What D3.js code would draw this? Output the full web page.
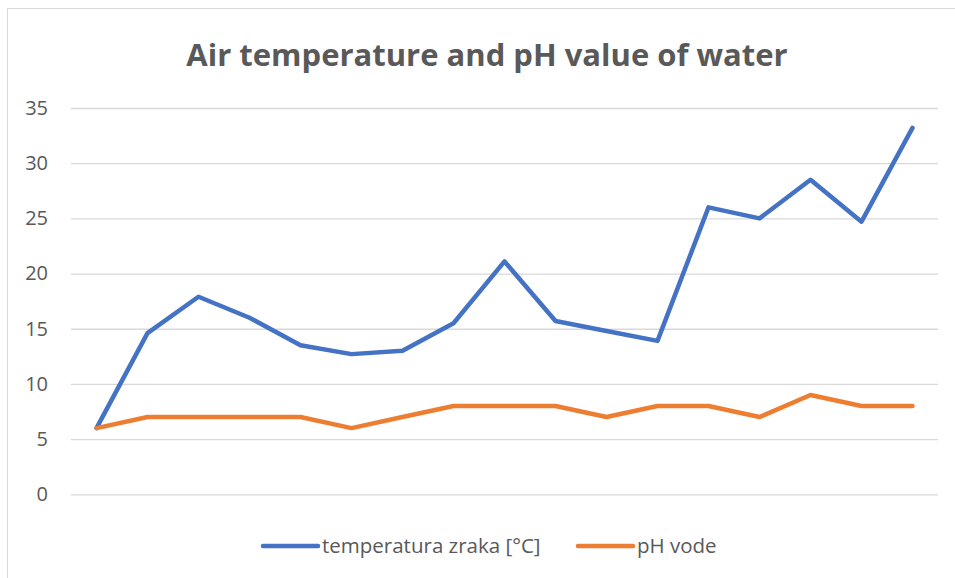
<!DOCTYPE html>
<html>
	<head>
		<meta charset="UTF-8">
		<title>Air temperature and pH value of water</title>
		<style>
			body { margin: 0; background: #fff; }
			text { font-family: "Open Sans", Lato, sans-serif; fill: #595959; }
		</style>
	</head>
	<body>
		<script src="https://d3js.org/d3.v7.min.js"></script>
		<svg width="955" height="578"></svg>
		<script>
			// measurements, one per point (no x labels on the chart)
			var categories = ["1","2","3","4","5","6","7","8","9","10","11","12","13","14","15","16","17"];
			var temperature = [6.0, 14.6, 17.9, 16.0, 13.5, 12.7, 13.0, 15.5, 21.1, 15.7, 14.8, 13.9, 26.0, 25.0, 28.5, 24.7, 33.2];
			var ph = [6, 7, 7, 7, 7, 6, 7, 8, 8, 8, 7, 8, 8, 7, 9, 8, 8];
			var yTicks = [0, 5, 10, 15, 20, 25, 30, 35];
			var seriesNames = ["temperatura zraka [°C]", "pH vode"];
			var colors = ["#4472C4", "#ED7D31"];

			var svg = d3.select("svg");

			// chart area border (cropped on right/bottom)
			svg.append("rect")
				.attr("x", 7.5).attr("y", 8.5)
				.attr("width", 960).attr("height", 580)
				.attr("fill", "none")
				.attr("stroke", "#d9d9d9")
				.attr("stroke-width", 1);

			var plotLeft = 71, plotRight = 938, plotTop = 108, plotBottom = 494.3;

			var x = d3.scaleBand().domain(categories).range([plotLeft, plotRight]);
			var y = d3.scaleLinear().domain([0, 35]).range([plotBottom, plotTop]);

			svg.append("text")
				.attr("x", 487).attr("y", 66)
				.attr("text-anchor", "middle")
				.style("font-size", "31px")
				.style("font-weight", "bold")
				.text("Air temperature and pH value of water");

			// gridlines + labels
			var yAxis = svg.append("g")
				.attr("transform", "translate(" + plotLeft + ",0)")
				.call(d3.axisLeft(y).tickValues(yTicks).tickSize(-(plotRight - plotLeft)).tickPadding(23));
			yAxis.select(".domain").remove();
			yAxis.selectAll("line").attr("stroke", "#d9d9d9").attr("stroke-width", 1.3);
			yAxis.selectAll("text")
				.style("font-size", "20px")
				.style("font-family", "'Open Sans', sans-serif")
				.attr("fill", "#595959");

			var line = d3.line()
				.x(function(d, i) { return x(categories[i]) + x.bandwidth() / 2; })
				.y(function(d) { return y(d); });

			[temperature, ph].forEach(function(s, i) {
				svg.append("path")
					.datum(s)
					.attr("d", line)
					.attr("fill", "none")
					.attr("stroke", colors[i])
					.attr("stroke-width", 4.5)
					.attr("stroke-linejoin", "round")
					.attr("stroke-linecap", "round");
			});

			// legend
			var legendX = [263, 578];
			seriesNames.forEach(function(name, i) {
				var g = svg.append("g").attr("transform", "translate(" + legendX[i] + ",546)");
				g.append("line")
					.attr("x1", 0).attr("x2", 55)
					.attr("stroke", colors[i])
					.attr("stroke-width", 4.5)
					.attr("stroke-linecap", "round");
				g.append("text")
					.attr("x", 59).attr("y", 7)
					.style("font-size", "20.5px")
					.text(name);
			});
		</script>
	</body>
</html>
